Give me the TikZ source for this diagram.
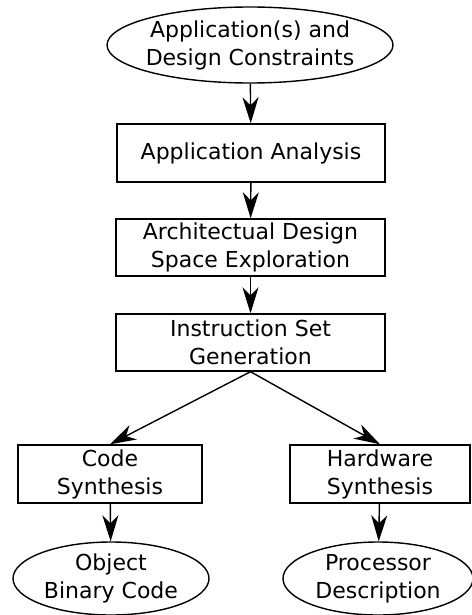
\documentclass[tikz,border=0pt]{standalone}
\usepackage{fontspec}
\setmainfont{DejaVu Sans}
\usetikzlibrary{shapes.geometric,arrows.meta}
\begin{document}
\begin{tikzpicture}[x=1pt,y=1pt,
  every node/.style={font=\fontsize{22}{28}\selectfont, align=center, inner sep=0pt, line width=1.4pt},
  procbox/.style={draw, rectangle, minimum height=57pt},
  datanode/.style={draw, ellipse},
  flow/.style={line width=1.4pt, -{Stealth[length=26pt,width=16pt,inset=8pt]}}]
\useasboundingbox (0,0) rectangle (471,-615);
\node[datanode, inner xsep=-30pt, minimum width=286pt, minimum height=76pt] (app) at (250,-45) {Application(s) and\\Design Constraints};
\node[procbox, minimum width=268pt, minimum height=58pt] (aa) at (251,-153) {Application Analysis};
\node[procbox, minimum width=269pt] (adse) at (250.5,-247.5) {Architectual Design\\Space Exploration};
\node[procbox, minimum width=269pt] (isg) at (250.5,-342.5) {Instruction Set\\Generation};
\node[procbox, minimum width=184pt, minimum height=58pt] (cs) at (110,-474) {Code\\Synthesis};
\node[procbox, minimum width=180pt, minimum height=58pt] (hs) at (380,-474) {Hardware\\Synthesis};
\node[datanode, inner xsep=-10pt, minimum width=196pt, minimum height=73pt] (obc) at (111,-578.5) {Object\\Binary Code};
\node[datanode, inner xsep=-10pt, minimum width=190pt, minimum height=73pt] (pd) at (378,-578.5) {Processor\\Description};
\draw[flow] (app) -- (aa);
\draw[flow] (aa) -- (adse);
\draw[flow] (adse) -- (isg);
\draw[flow] (isg.south) -- (cs.north);
\draw[flow] (isg.south) -- (hs.north);
\draw[flow] (cs) -- (obc);
\draw[flow] (hs) -- (pd);
\end{tikzpicture}
\end{document}
